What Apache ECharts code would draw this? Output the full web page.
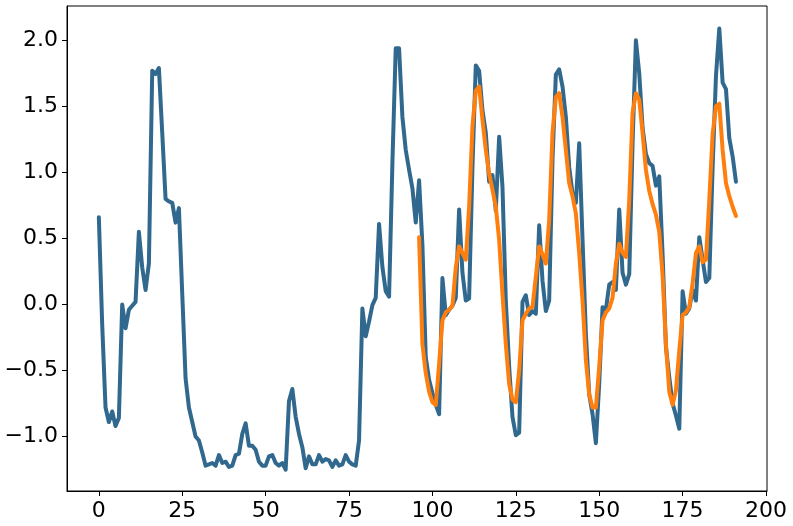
<!DOCTYPE html>
<html>
<head>
<meta charset="utf-8">
<script src="https://cdn.jsdelivr.net/npm/echarts@6/dist/echarts.min.js"></script>
<style>
html,body{margin:0;padding:0;background:#fff;}
#chart{width:793px;height:526px;}
</style>
</head>
<body>
<div id="chart"></div>
<script>
// Actual series (index 0..191)
const actualValues = [
  0.66, -0.15, -0.78, -0.89, -0.81, -0.92, -0.86, 0.00, -0.18, -0.04,
  -0.01, 0.02, 0.55, 0.28, 0.11, 0.31, 1.77, 1.745, 1.79, 1.30,
  0.80, 0.78, 0.77, 0.62, 0.73, 0.08, -0.56, -0.78, -0.89, -1.00,
  -1.03, -1.12, -1.22, -1.21, -1.20, -1.22, -1.14, -1.20, -1.19, -1.23,
  -1.22, -1.14, -1.13, -0.98, -0.90, -1.07, -1.07, -1.10, -1.19, -1.22,
  -1.22, -1.15, -1.14, -1.20, -1.22, -1.20, -1.25, -0.73, -0.64, -0.85,
  -0.98, -1.08, -1.24, -1.15, -1.21, -1.21, -1.14, -1.19, -1.17, -1.18,
  -1.23, -1.18, -1.22, -1.21, -1.14, -1.19, -1.21, -1.22, -1.03, -0.03,
  -0.24, -0.13, -0.005, 0.05, 0.61, 0.285, 0.10, 0.06, 1.07, 1.94,
  1.94, 1.42, 1.17, 1.02, 0.88, 0.62, 0.94, 0.45, -0.40, -0.57,
  -0.67, -0.76, -0.83, 0.20, -0.08, -0.04, -0.01, 0.05, 0.72, 0.24,
  0.03, 0.045, 1.04, 1.81, 1.77, 1.47, 1.30, 0.93, 0.98, 0.71,
  1.27, 0.89, 0.03, -0.47, -0.85, -0.99, -0.97, 0.02, 0.07, -0.08,
  -0.05, -0.07, 0.60, 0.18, -0.05, 0.03, 1.10, 1.74, 1.78, 1.65,
  1.42, 1.04, 0.84, 0.77, 1.22, 0.49, -0.22, -0.68, -0.83, -1.05,
  -0.60, -0.02, -0.04, 0.15, 0.17, 0.11, 0.72, 0.24, 0.15, 0.23,
  1.22, 2.00, 1.75, 1.34, 1.14, 1.07, 1.05, 0.90, 0.97, 0.38,
  -0.32, -0.55, -0.75, -0.84, -0.94, 0.10, -0.07, -0.03, 0.11, 0.03,
  0.51, 0.34, 0.17, 0.20, 1.04, 1.73, 2.09, 1.68, 1.63, 1.26,
  1.12, 0.93
];
// Predicted series starts at index 96
const predictedStart = 96;
const predictedValues = [
  0.51, -0.30, -0.52, -0.66, -0.74, -0.76, -0.45, -0.12, -0.06, -0.04,
  -0.01, 0.28, 0.44, 0.39, 0.34, 0.74, 1.35, 1.62, 1.65, 1.40,
  1.17, 0.99, 0.87, 0.74, 0.49, 0.08, -0.30, -0.60, -0.72, -0.74,
  -0.50, -0.12, -0.07, -0.03, -0.02, 0.21, 0.44, 0.38, 0.31, 0.64,
  1.30, 1.57, 1.60, 1.42, 1.17, 0.92, 0.82, 0.69, 0.39, 0.03,
  -0.42, -0.68, -0.78, -0.78, -0.47, -0.12, -0.06, -0.03, 0.05, 0.31,
  0.46, 0.39, 0.36, 0.79, 1.45, 1.60, 1.55, 1.30, 1.02, 0.86,
  0.76, 0.68, 0.55, 0.22, -0.30, -0.66, -0.76, -0.65, -0.35, -0.08,
  -0.06, -0.02, 0.16, 0.39, 0.44, 0.32, 0.34, 0.79, 1.29, 1.50,
  1.52, 1.17, 0.92, 0.82, 0.74, 0.67
];
const xTicks = [0, 25, 50, 75, 100, 125, 150, 175, 200];
const yTicks = [-1.0, -0.5, 0.0, 0.5, 1.0, 1.5, 2.0];

const actualData = actualValues.map((v, i) => [i, v]);
const predictedData = predictedValues.map((v, i) => [predictedStart + i, v]);

const font = 'DejaVu Sans';
const chart = echarts.init(document.getElementById('chart'), null, {renderer: 'canvas'});
chart.setOption({
  animation: false,
  backgroundColor: '#ffffff',
  grid: {
    left: 67, right: 26, top: 6, bottom: 35,
    show: true, borderColor: '#000', borderWidth: 1, backgroundColor: 'transparent'
  },
  xAxis: {
    type: 'value',
    min: -9.55, max: 200.3,
    axisLine: {show: true, onZero: false, lineStyle: {color: '#000', width: 1}},
    axisTick: {show: true, inside: false, length: 5, lineStyle: {color: '#000', width: 1}, customValues: xTicks},
    axisLabel: {
      show: true, customValues: xTicks, margin: 9,
      color: '#000', fontFamily: font, fontSize: 22,
      formatter: v => String(v)
    },
    splitLine: {show: false}
  },
  yAxis: {
    type: 'value',
    min: -1.412, max: 2.26,
    axisLine: {show: true, onZero: false, lineStyle: {color: '#000', width: 1}},
    axisTick: {show: true, inside: false, length: 5, lineStyle: {color: '#000', width: 1}, customValues: yTicks},
    axisLabel: {
      show: true, customValues: yTicks, margin: 9,
      color: '#000', fontFamily: font, fontSize: 22,
      formatter: v => (v < 0 ? '\u2212' : '') + Math.abs(v).toFixed(1)
    },
    splitLine: {show: false}
  },
  series: [
    {
      type: 'line', data: actualData, showSymbol: false, symbol: 'none',
      lineStyle: {color: '#31688e', width: 4, join: 'round', cap: 'round'},
      z: 2
    },
    {
      type: 'line', data: predictedData, showSymbol: false, symbol: 'none',
      lineStyle: {color: '#ff7f0e', width: 4, join: 'round', cap: 'round'},
      z: 3
    }
  ]
});
</script>
</body>
</html>
